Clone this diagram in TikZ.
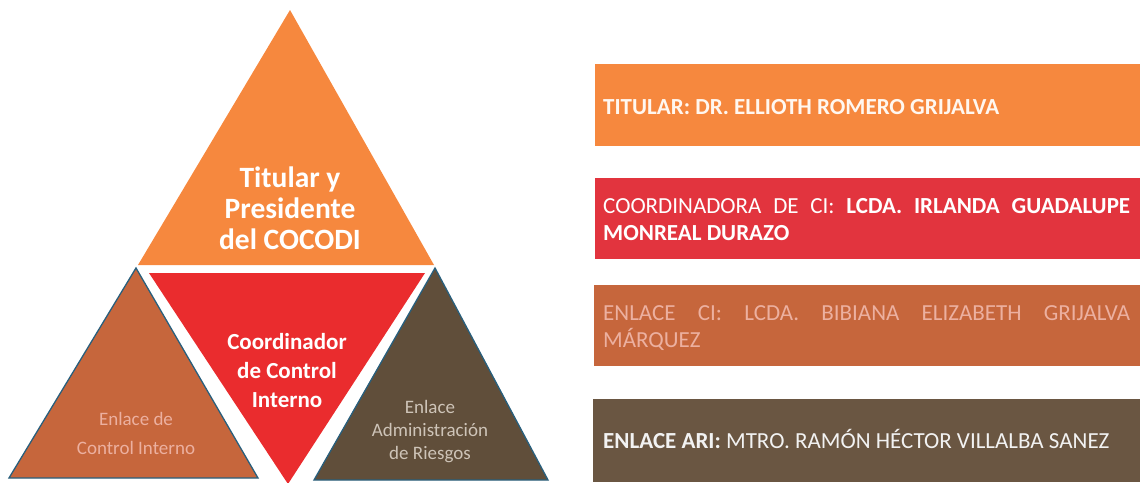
\documentclass[tikz,border=0pt]{standalone}
\usepackage{fontspec}
\setmainfont{Carlito}
\usetikzlibrary{positioning}
\definecolor{cocodiorange}{RGB}{246,136,62}
\definecolor{coordred}{RGB}{234,44,46}
\definecolor{barred}{RGB}{226,52,62}
\definecolor{enlacebrown}{RGB}{198,102,60}
\definecolor{aribrown}{RGB}{96,78,58}
\definecolor{baribrown}{RGB}{106,86,66}
\definecolor{edgeblue}{RGB}{40,95,125}
\definecolor{palepink}{RGB}{236,176,160}
\definecolor{palegrey}{RGB}{206,196,184}
\tikzset{
	edged/.style={draw=edgeblue, line width=1.3pt, line join=miter},
	tritext/.style={align=center, inner sep=0pt, text=white},
	namebar/.style={anchor=north west, inner sep=0pt, minimum width=546pt},
	bartext/.style={inner sep=0pt, font=\fontsize{23}{27}\selectfont}
}

\begin{document}
\begin{tikzpicture}[x=1pt, y=-1pt]
	\useasboundingbox (0,0) rectangle (1140,482);

	% pyramid
	\coordinate (topapex) at (290,10);
	\coordinate (topleft) at (138,265);
	\coordinate (topright) at (434,265);
	\fill[cocodiorange] (topapex) -- (topleft) -- (topright) -- cycle;

	\coordinate (midleft) at (149,273);
	\coordinate (midright) at (425,273);
	\coordinate (midapex) at (288,484);
	\fill[coordred] (midleft) -- (midright) -- (midapex) -- cycle;

	\coordinate (leftapex) at (136,268);
	\coordinate (leftA) at (9,478);
	\coordinate (leftB) at (258,478);
	\filldraw[fill=enlacebrown, edged] (leftapex) -- (leftA) -- (leftB) -- cycle;

	\coordinate (rightapex) at (435,268);
	\coordinate (rightA) at (314,480);
	\coordinate (rightB) at (548,480);
	\filldraw[fill=aribrown, edged] (rightapex) -- (rightA) -- (rightB) -- cycle;

	\node[tritext, font=\bfseries\fontsize{29.5}{31}\selectfont] (titular) at (290,208) {Titular y\\Presidente\\del COCODI};
	\node[tritext, font=\bfseries\fontsize{23}{29}\selectfont] (coordinador) at (287,371) {Coordinador\\de Control\\Interno};
	\node[tritext, text=palepink, font=\fontsize{19}{29}\selectfont] (enlaceci) at (136,433) {Enlace de\\Control Interno};
	\node[tritext, text=palegrey, font=\fontsize{19}{23}\selectfont] (enlaceari) at (430,432) {Enlace\\Administración\\de Riesgos};

	% name bars
	\node[namebar, fill=cocodiorange, minimum height=82pt] (titularbar) at (595,64) {};
	\node[namebar, fill=barred, minimum height=81pt] (coordbar) at (595,178) {};
	\node[namebar, fill=enlacebrown, minimum height=81pt] (enlacebar) at (594,285) {};
	\node[namebar, fill=baribrown, minimum height=83pt, minimum width=547pt] (aribar) at (593,399) {};

	\node[bartext, anchor=base west, text=white!94!orange] (titularname) at (603,114) {\textbf{TITULAR: DR. ELLIOTH ROMERO GRIJALVA}};
	\node[bartext, anchor=north west, text width=527pt, align=justify, text=white] (coordname) at (603,198)
		{COORDINADORA DE CI: \textbf{LCDA. IRLANDA GUADALUPE}\linebreak \textbf{MONREAL DURAZO}};
	\node[bartext, anchor=north west, text width=527pt, align=justify, text=palepink] (enlacename) at (603,305)
		{ENLACE CI: LCDA. BIBIANA ELIZABETH GRIJALVA\linebreak MÁRQUEZ};
	\node[bartext, anchor=base west, text=white!90!gray] (ariname) at (603,448) {\textbf{ENLACE ARI:} MTRO. RAMÓN HÉCTOR VILLALBA SANEZ};
\end{tikzpicture}
\end{document}
